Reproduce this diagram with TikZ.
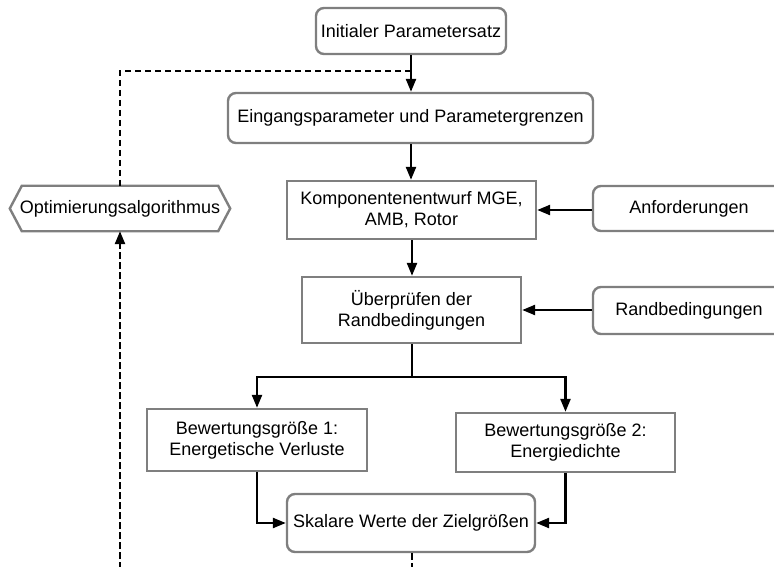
\documentclass[tikz,border=0pt]{standalone}
\usepackage{fontspec}
\setmainfont{Liberation Sans}
\usetikzlibrary{arrows.meta}
\definecolor{boxgray}{HTML}{7F7F7F}
\begin{document}
\begin{tikzpicture}[x=1pt,y=-1pt,
  box/.style={draw=boxgray, line width=2.4pt, align=center, inner sep=0pt, font=\fontsize{18}{21}\selectfont},
  rbox/.style={box, rounded corners=8pt},
  arr/.style={line width=2.4pt, -{Triangle[length=13pt,width=10pt]}},
  dline/.style={line width=2.4pt, dash pattern=on 6.5pt off 3.5pt},
  darr/.style={dline, -{Triangle[length=13pt,width=10pt]}}]
\useasboundingbox (0,0) rectangle (774,567);
\clip (0,0) rectangle (774,567);
\node[rbox, minimum width=190pt, minimum height=46pt] (init) at (411,31) {Initialer Parametersatz};
\node[rbox, minimum width=365pt, minimum height=50pt] (eing) at (410.5,118) {Eingangsparameter und Parametergrenzen};
\node[box, minimum width=249pt, minimum height=58pt] (komp) at (411.5,210) {Komponentenentwurf MGE,\\AMB, Rotor};
\node[rbox, minimum width=192pt, minimum height=45pt] (anf) at (689,208.5) {Anforderungen};
\node[box, minimum width=219pt, minimum height=66pt] (ueb) at (411.5,310) {Überprüfen der\\Randbedingungen};
\node[rbox, minimum width=192pt, minimum height=47pt] (rand) at (689,310.5) {Randbedingungen};
\node[box, minimum width=220pt, minimum height=62pt] (bew1) at (257,440) {Bewertungsgröße 1:\\Energetische Verluste};
\node[box, minimum width=219pt, minimum height=59pt] (bew2) at (565.5,442.5) {Bewertungsgröße 2:\\Energiedichte};
\node[rbox, minimum width=248pt, minimum height=58pt] (skal) at (411,523) {Skalare Werte der Zielgrößen};
% hexagon
\node[inner sep=0pt, minimum width=220pt, minimum height=45pt, font=\fontsize{18}{21}\selectfont] (opt) at (120,208.5) {Optimierungsalgorithmus};
\draw[boxgray, line width=2.4pt, line join=miter] (opt.west) -- ([xshift=12pt]opt.north west) -- ([xshift=-12pt]opt.north east) -- (opt.east) -- ([xshift=-12pt]opt.south east) -- ([xshift=12pt]opt.south west) -- cycle;
% connectors
\coordinate (j1) at (411,71);
\coordinate (split) at (412,377);
\coordinate (low) at (412,600);
\draw[arr] (init.south) -- (eing.north -| init.south);
\draw[arr] (eing.south -| init.south) -- (komp.north -| init.south);
\draw[dline] (j1) -- (opt.north |- j1) -- (opt.north);
\draw[arr] (anf.west |- komp.east) -- (komp.east);
\draw[arr] (komp.south -| split) -- (ueb.north -| split);
\draw[arr] (rand.west |- ueb.east) -- (ueb.east);
\draw[line width=2.4pt] (ueb.south -| split) -- (split);
\draw[arr] (split) -| (bew1.north);
\draw[arr] (split) -| (bew2.north);
\draw[arr] (bew1.south) |- (skal.west);
\draw[arr] (bew2.south) |- (skal.east);
\draw[darr] (skal.south -| split) -- (low) -- (opt.south |- low) -- (opt.south);
\end{tikzpicture}
\end{document}
